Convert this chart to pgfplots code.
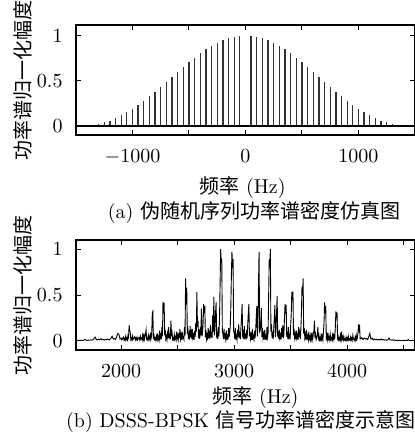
\documentclass[border=0pt]{standalone}
\usepackage{fontspec}
\usepackage{pgfplots}
\pgfplotsset{compat=1.18}
\newfontfamily\cjk{Noto Sans CJK SC}

\pgfplotsset{
  specax/.style={
    width=169.5pt, height=55pt, scale only axis,
    axis line style={line width=0.6pt},
    every tick/.style={black, line width=0.5pt},
    major tick length=2.5pt, minor tick length=2.5pt,
    ymin=-0.1, ytick={0,0.5,1},
    tick label style={font=\fontsize{10}{12}\selectfont},
    xticklabel style={yshift=-3.7pt},
    yticklabel style={xshift=-3.2pt},
    scaled x ticks=false,
    /pgf/number format/set thousands separator={},
  }
}

\begin{document}
\begin{tikzpicture}
% (a) PN sequence spectrum
\begin{axis}[specax, name=top, at={(0,0)}, anchor=north west,
  xmin=-1500, xmax=1500, ymax=1.12,
  xtick={-1000,0,1000}, minor xtick={-500,500}]
\addplot[ycomb, black!80, line width=0.65pt, mark=none] coordinates {
 (-1350,0.011) (-1300,0.026) (-1250,0.040) (-1200,0.060) (-1150,0.086)
 (-1100,0.118) (-1050,0.155) (-1000,0.190) (-950,0.232) (-900,0.280)
 (-850,0.328) (-800,0.380) (-750,0.436) (-700,0.485) (-650,0.540)
 (-600,0.598) (-550,0.652) (-500,0.708) (-450,0.758) (-400,0.805)
 (-350,0.850) (-300,0.888) (-250,0.922) (-200,0.952) (-150,0.975)
 (-100,0.990) (-50,1.000) (0,0.010) (50,1.000) (100,0.990)
 (150,0.975) (200,0.952) (250,0.922) (300,0.888) (350,0.850)
 (400,0.805) (450,0.758) (500,0.708) (550,0.652) (600,0.598)
 (650,0.540) (700,0.485) (750,0.436) (800,0.380) (850,0.328)
 (900,0.280) (950,0.232) (1000,0.190) (1050,0.155) (1100,0.118)
 (1150,0.086) (1200,0.060) (1250,0.040) (1300,0.026) (1350,0.011)
};
\addplot[black, line width=1.2pt, mark=none] coordinates {(-1500,0) (1500,0)};
\end{axis}

% (b) DSSS-BPSK spectrum
\begin{axis}[specax, name=bot, at={(0,-107.5pt)}, anchor=north west,
  xmin=1600, xmax=4600, ymax=1.10,
  xtick={2000,3000,4000}, minor xtick={2500,3500,4500}]
\addplot[black, line width=0.45pt, mark=none] coordinates {
 (1600,0.004) (1610,0.003) (1620,0.005) (1630,0.004) (1640,0.006) (1650,0.004)
 (1660,0.005) (1670,0.008) (1680,0.015) (1690,0.006) (1700,0.005) (1710,0.008)
 (1720,0.006) (1730,0.010) (1740,0.007) (1750,0.012) (1760,0.025) (1770,0.040)
 (1780,0.015) (1790,0.010) (1800,0.018) (1810,0.012) (1820,0.025) (1830,0.010)
 (1840,0.014) (1850,0.008) (1860,0.016) (1870,0.012) (1880,0.020) (1890,0.010)
 (1900,0.015) (1910,0.030) (1920,0.050) (1930,0.020) (1940,0.025) (1950,0.015)
 (1960,0.045) (1970,0.080) (1980,0.070) (1990,0.020)
 (2000,0.030) (2005,0.010) (2010,0.015) (2015,0.030) (2020,0.040) (2025,0.010)
 (2030,0.025) (2035,0.008) (2040,0.050) (2045,0.015) (2050,0.030) (2055,0.010)
 (2060,0.060) (2065,0.040) (2070,0.170) (2075,0.120) (2080,0.090) (2085,0.015)
 (2090,0.030) (2095,0.010) (2100,0.050) (2105,0.015) (2110,0.025) (2115,0.040)
 (2120,0.045) (2125,0.010) (2130,0.030) (2135,0.015) (2140,0.040) (2145,0.010)
 (2150,0.020) (2155,0.035) (2160,0.035) (2165,0.010) (2170,0.050) (2175,0.020)
 (2180,0.030) (2185,0.010) (2190,0.060) (2195,0.020) (2200,0.080) (2205,0.015)
 (2210,0.040) (2215,0.080) (2220,0.120) (2225,0.020) (2230,0.030) (2235,0.010)
 (2240,0.060) (2245,0.020) (2250,0.045) (2255,0.015) (2260,0.090) (2265,0.030)
 (2270,0.060) (2275,0.300) (2280,0.320) (2285,0.040) (2290,0.060) (2295,0.015)
 (2300,0.030) (2305,0.010) (2310,0.050) (2315,0.020) (2320,0.080) (2325,0.015)
 (2330,0.040) (2335,0.010) (2340,0.110) (2345,0.030) (2350,0.060) (2355,0.020)
 (2360,0.150) (2365,0.050) (2370,0.430) (2375,0.300) (2380,0.410) (2385,0.060)
 (2390,0.120) (2395,0.020) (2400,0.050) (2405,0.010) (2410,0.080) (2415,0.030)
 (2420,0.150) (2425,0.040) (2430,0.060) (2435,0.020) (2440,0.220) (2445,0.050)
 (2450,0.090) (2455,0.015) (2460,0.030) (2465,0.010) (2470,0.070) (2475,0.020)
 (2480,0.040) (2485,0.010) (2490,0.100) (2495,0.030) (2500,0.060) (2505,0.015)
 (2510,0.090) (2515,0.030) (2520,0.130) (2525,0.020) (2530,0.060) (2535,0.010)
 (2540,0.100) (2545,0.030) (2550,0.040) (2555,0.015) (2560,0.150) (2565,0.060)
 (2570,0.680) (2575,0.400) (2580,0.580) (2585,0.080) (2590,0.120) (2595,0.020)
 (2600,0.070) (2605,0.015) (2610,0.160) (2615,0.040) (2620,0.090) (2625,0.020)
 (2630,0.130) (2635,0.030) (2640,0.060) (2645,0.010) (2650,0.110) (2655,0.040)
 (2660,0.200) (2665,0.100) (2670,0.530) (2675,0.150) (2680,0.220) (2685,0.030)
 (2690,0.080) (2695,0.020) (2700,0.150) (2705,0.060) (2710,0.350) (2715,0.050)
 (2720,0.090) (2725,0.200) (2730,0.400) (2735,0.300) (2740,0.380) (2745,0.040)
 (2750,0.120) (2755,0.020) (2760,0.060) (2765,0.010) (2770,0.140) (2775,0.030)
 (2780,0.080) (2785,0.020) (2790,0.170) (2795,0.040) (2800,0.100) (2805,0.030)
 (2810,0.280) (2815,0.100) (2820,0.480) (2825,0.060) (2830,0.130) (2835,0.300)
 (2840,0.420) (2845,0.050) (2850,0.070) (2855,0.020) (2860,0.150) (2865,0.050)
 (2870,0.240) (2875,0.600) (2880,1.000) (2885,0.850) (2890,0.900) (2895,0.100)
 (2900,0.080) (2905,0.020) (2910,0.130) (2915,0.040) (2920,0.060) (2925,0.015)
 (2930,0.110) (2935,0.030) (2940,0.050) (2945,0.010) (2950,0.140) (2955,0.040)
 (2960,0.090) (2965,0.150) (2970,0.360) (2975,0.700) (2980,0.970) (2985,0.850)
 (2990,0.890) (2995,0.100) (3000,0.090) (3005,0.020) (3010,0.140) (3015,0.030)
 (3020,0.050) (3025,0.010) (3030,0.120) (3035,0.040) (3040,0.180) (3045,0.030)
 (3050,0.070) (3055,0.020) (3060,0.150) (3065,0.250) (3070,0.400) (3075,0.060)
 (3080,0.090) (3085,0.020) (3090,0.160) (3095,0.040) (3100,0.060) (3105,0.015)
 (3110,0.120) (3115,0.030) (3120,0.190) (3125,0.300) (3130,0.400) (3135,0.050)
 (3140,0.100) (3145,0.020) (3150,0.060) (3155,0.010) (3160,0.130) (3165,0.030)
 (3170,0.050) (3175,0.015) (3180,0.110) (3185,0.030) (3190,0.110) (3195,0.250)
 (3200,0.380) (3205,0.050) (3210,0.160) (3215,0.600) (3220,0.970) (3225,0.100)
 (3230,0.110) (3235,0.200) (3240,0.360) (3245,0.040) (3250,0.140) (3255,0.030)
 (3260,0.070) (3265,0.015) (3270,0.120) (3275,0.030) (3280,0.050) (3285,0.010)
 (3290,0.150) (3295,0.040) (3300,0.080) (3305,0.500) (3310,0.890) (3315,0.800)
 (3320,1.000) (3325,0.100) (3330,0.180) (3335,0.030) (3340,0.070) (3345,0.020)
 (3350,0.130) (3355,0.250) (3360,0.390) (3365,0.040) (3370,0.110) (3375,0.300)
 (3380,0.490) (3385,0.060) (3390,0.080) (3395,0.020) (3400,0.120) (3405,0.030)
 (3410,0.060) (3415,0.015) (3420,0.140) (3425,0.040) (3430,0.170) (3435,0.030)
 (3440,0.070) (3445,0.250) (3450,0.400) (3455,0.300) (3460,0.390) (3465,0.040)
 (3470,0.100) (3475,0.020) (3480,0.150) (3485,0.040) (3490,0.060) (3495,0.015)
 (3500,0.170) (3505,0.300) (3510,0.530) (3515,0.450) (3520,0.540) (3525,0.060)
 (3530,0.130) (3535,0.030) (3540,0.070) (3545,0.015) (3550,0.110) (3555,0.030)
 (3560,0.060) (3565,0.010) (3570,0.150) (3575,0.040) (3580,0.090) (3585,0.020)
 (3590,0.120) (3595,0.300) (3600,0.590) (3605,0.500) (3610,0.680) (3615,0.080)
 (3620,0.140) (3625,0.030) (3630,0.070) (3635,0.015) (3640,0.120) (3645,0.030)
 (3650,0.050) (3655,0.010) (3660,0.100) (3665,0.020) (3670,0.040) (3675,0.010)
 (3680,0.090) (3685,0.020) (3690,0.060) (3695,0.015) (3700,0.080) (3705,0.100)
 (3710,0.220) (3715,0.030) (3720,0.070) (3725,0.015) (3730,0.040) (3735,0.060)
 (3740,0.150) (3745,0.030) (3750,0.060) (3755,0.010) (3760,0.030) (3765,0.010)
 (3770,0.080) (3775,0.020) (3780,0.050) (3785,0.010) (3790,0.100) (3795,0.200)
 (3800,0.420) (3805,0.300) (3810,0.380) (3815,0.030) (3820,0.060) (3825,0.015)
 (3830,0.090) (3835,0.020) (3840,0.040) (3845,0.010) (3850,0.070) (3855,0.015)
 (3860,0.030) (3865,0.008) (3870,0.060) (3875,0.015) (3880,0.080) (3885,0.020)
 (3890,0.030) (3895,0.150) (3900,0.320) (3905,0.250) (3910,0.310) (3915,0.030)
 (3920,0.050) (3925,0.010) (3930,0.030) (3935,0.008) (3940,0.060) (3945,0.015)
 (3950,0.100) (3955,0.020) (3960,0.040) (3965,0.010) (3970,0.050) (3975,0.010)
 (3980,0.020) (3985,0.006) (3990,0.040) (3995,0.010) (4000,0.030) (4005,0.008)
 (4010,0.050) (4015,0.010) (4020,0.020) (4025,0.006) (4030,0.040) (4035,0.010)
 (4040,0.030) (4045,0.008) (4050,0.060) (4055,0.015) (4060,0.020) (4065,0.006)
 (4070,0.040) (4075,0.010) (4080,0.060) (4085,0.015) (4090,0.030) (4095,0.080)
 (4100,0.180) (4105,0.120) (4110,0.150) (4115,0.020)
 (4120,0.020) (4130,0.035) (4140,0.015) (4150,0.030) (4160,0.020) (4170,0.025)
 (4180,0.015) (4190,0.040) (4200,0.080) (4210,0.020) (4220,0.030) (4230,0.010)
 (4240,0.020) (4250,0.012) (4260,0.018) (4270,0.010) (4280,0.015) (4290,0.008)
 (4300,0.020) (4310,0.010) (4320,0.015) (4330,0.008) (4340,0.012) (4350,0.006)
 (4360,0.010) (4370,0.030) (4380,0.010) (4390,0.008) (4400,0.012) (4410,0.006)
 (4420,0.010) (4430,0.004) (4440,0.006) (4450,0.004) (4460,0.005) (4470,0.003)
 (4480,0.004) (4490,0.003) (4500,0.005) (4510,0.003) (4520,0.004) (4530,0.003)
 (4540,0.015) (4550,0.003) (4560,0.004) (4570,0.003) (4580,0.004) (4590,0.003)
 (4600,0.003)
};
\end{axis}

% labels and captions
\node[font=\cjk\fontsize{10}{12}\selectfont, rotate=90, anchor=south, inner sep=0pt] at (-21.5pt,-27.5pt) {功率谱归一化幅度};
\node[font=\cjk\fontsize{10}{12}\selectfont, rotate=90, anchor=south, inner sep=0pt] at (-21.5pt,-135pt) {功率谱归一化幅度};
\node[font=\fontsize{10}{12}\selectfont, inner sep=0pt] at (83.3pt,-81.3pt) {{\cjk 频率} (Hz)};
\node[font=\fontsize{10}{12}\selectfont, inner sep=0pt] at (89pt,-93.5pt) {(a) {\cjk 伪随机序列功率谱密度仿真图}};
\node[font=\fontsize{10}{12}\selectfont, inner sep=0pt] at (89.7pt,-186.2pt) {{\cjk 频率} (Hz)};
\node[font=\fontsize{10}{12}\selectfont, inner sep=0pt] at (82.5pt,-198.2pt) {(b) DSSS-BPSK {\cjk 信号功率谱密度示意图}};

\pgfresetboundingbox
\useasboundingbox (-38pt,12.5pt) rectangle (169.5pt,-207pt);
\end{tikzpicture}
\end{document}
